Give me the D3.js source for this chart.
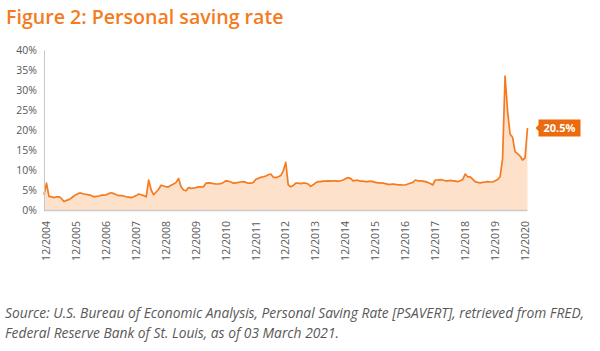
<!DOCTYPE html>
<html>
<head>
<meta charset="utf-8">
<script src="https://cdn.jsdelivr.net/npm/d3@7"></script>
<style>
  body { margin: 0; background: #fff; }
  svg { display: block; font-family: 'Open Sans', sans-serif; }
</style>
</head>
<body>
<script>
// DATA
const startMonth = '2004-11';
const savingRate = [
  3.8, 6.7,                                                   // 2004 (Nov, Dec)
  3.4, 3.3, 3.1, 3.3, 3.3, 2.9, 2.1, 2.4, 2.6, 3.0, 3.5, 3.9, // 2005
  4.2, 4.2, 4.0, 3.9, 3.8, 3.6, 3.3, 3.4, 3.5, 3.7, 3.7, 3.8, // 2006
  4.1, 4.3, 4.1, 3.8, 3.6, 3.6, 3.5, 3.3, 3.2, 3.1, 3.3, 3.6, // 2007
  4.0, 3.8, 3.6, 3.3, 7.5, 5.0, 3.8, 4.5, 5.2, 6.2, 6.0, 5.8, // 2008
  5.8, 6.2, 6.5, 6.9, 7.9, 5.8, 5.0, 4.8, 5.6, 5.4, 5.5, 5.6, // 2009
  5.8, 5.8, 5.8, 6.7, 6.8, 6.7, 6.6, 6.5, 6.5, 6.6, 6.9, 7.3, // 2010
  7.2, 7.0, 6.7, 6.8, 6.9, 7.0, 7.1, 6.9, 6.7, 6.7, 6.9, 7.7, // 2011
  7.9, 8.2, 8.3, 8.5, 8.8, 9.0, 8.2, 8.1, 8.3, 8.6, 9.8, 11.9, // 2012
  6.3, 5.8, 6.1, 6.7, 6.7, 6.6, 6.7, 6.7, 6.5, 5.9, 6.3, 6.8, // 2013
  7.1, 7.1, 7.2, 7.2, 7.3, 7.2, 7.3, 7.3, 7.2, 7.3, 7.5, 7.8, // 2014
  8.1, 7.9, 7.3, 7.4, 7.4, 7.2, 7.2, 7.1, 7.1, 7.2, 7.1, 6.9, // 2015
  6.8, 6.8, 6.7, 6.6, 6.4, 6.4, 6.5, 6.4, 6.3, 6.3, 6.25, 6.25, // 2016
  6.5, 6.7, 6.9, 7.5, 7.3, 7.3, 7.2, 7.1, 6.9, 6.6, 6.25, 7.5, // 2017
  7.5, 7.6, 7.5, 7.3, 7.3, 7.4, 7.3, 7.2, 7.1, 7.3, 7.6, 9.0, // 2018
  8.3, 8.3, 7.7, 7.1, 6.9, 6.8, 6.9, 7.0, 7.1, 7.0, 7.0, 7.3, // 2019
  7.6, 8.3, 12.8, 33.5, 24.8, 19.0, 18.2, 14.6, 14.1, 13.5, 12.5, 13.0, // 2020
  20.5                                                        // 2021 (Jan)
];
const xTickLabels = ['12/2004', '12/2005', '12/2006', '12/2007', '12/2008', '12/2009',
  '12/2010', '12/2011', '12/2012', '12/2013', '12/2014', '12/2015', '12/2016',
  '12/2017', '12/2018', '12/2019', '12/2020'];
const yTickValues = [0, 5, 10, 15, 20, 25, 30, 35, 40];
const titleText = 'Figure 2: Personal saving rate';
const sourceLines = [
  'Source: U.S. Bureau of Economic Analysis, Personal Saving Rate [PSAVERT], retrieved from FRED,',
  'Federal Reserve Bank of St. Louis, as of 03 March 2021.'
];

// DEFS
const width = 600;
const height = 351;
const orange = '#f47b20';
const labelOrange = '#ec6a0e';
const fillColor = '#fde1cb';
const textGrey = '#595959';
const axisGrey = '#c9c9c9';
const plot = {left: 44, right: 527.5, top: 50, bottom: 210};

const [startYear, startMon] = startMonth.split('-').map(Number);
// month index relative to the first data point, from a "MM/YYYY" label
const monthIndex = label => {
  const [m, y] = label.split('/').map(Number);
  return (y - startYear) * 12 + (m - startMon);
};

const svg = d3.select('body').append('svg')
  .attr('width', width)
  .attr('height', height);

// SCALES
const x = d3.scaleLinear().domain([0, savingRate.length - 1]).range([plot.left, plot.right]);
const y = d3.scaleLinear().domain([0, 40]).range([plot.bottom, plot.top]);

// TITLE
svg.append('text')
  .attr('x', 6)
  .attr('y', 24)
  .attr('fill', orange)
  .style('font-size', '19.6px')
  .style('font-weight', 600)
  .text(titleText);

// AREA + LINE
const area = d3.area()
  .x((d, i) => x(i))
  .y0(y(0))
  .y1(d => y(d));
const line = d3.line()
  .x((d, i) => x(i))
  .y(d => y(d));

svg.append('path')
  .datum(savingRate)
  .attr('d', area)
  .attr('fill', fillColor);

svg.append('path')
  .datum(savingRate)
  .attr('d', line)
  .attr('fill', 'none')
  .attr('stroke', orange)
  .attr('stroke-width', 1.7)
  .attr('stroke-linejoin', 'round');

// AXES
const yAxis = svg.append('g')
  .attr('transform', `translate(${plot.left},0)`)
  .call(d3.axisLeft(y).tickValues(yTickValues).tickSize(0).tickPadding(7).tickFormat(d => d + '%'));
yAxis.select('.domain').attr('stroke', axisGrey).attr('stroke-width', 1);
yAxis.selectAll('text')
  .attr('fill', textGrey)
  .style('font-family', "'Open Sans', sans-serif")
  .style('font-size', '10.5px');

svg.append('line')
  .attr('x1', plot.left)
  .attr('x2', plot.right)
  .attr('y1', y(0) + 0.5)
  .attr('y2', y(0) + 0.5)
  .attr('stroke', axisGrey)
  .attr('stroke-width', 1.5);

const xLabels = svg.append('g').attr('class', 'xLabels');
xLabels.selectAll('text')
  .data(xTickLabels)
  .enter().append('text')
    .attr('transform', d => `translate(${x(monthIndex(d))},221) rotate(-90)`)
    .attr('text-anchor', 'end')
    .attr('dy', '0.35em')
    .attr('fill', textGrey)
    .style('font-size', '10.5px')
    .text(d => d);

// LAST VALUE LABEL
const lastIdx = savingRate.length - 1;
const tipX = x(lastIdx) + 8;
const tipY = y(savingRate[lastIdx]);
const boxW = 42;
const boxH = 17;
const labelGroup = svg.append('g').attr('transform', `translate(${tipX},${tipY})`);
labelGroup.append('path')
  .attr('d', `M0,0 L3,-3 L3,${-boxH / 2} L${3 + boxW},${-boxH / 2} L${3 + boxW},${boxH / 2} L3,${boxH / 2} L3,3 Z`)
  .attr('fill', labelOrange);
labelGroup.append('text')
  .attr('x', 3 + boxW / 2)
  .attr('y', 0)
  .attr('dy', '0.36em')
  .attr('text-anchor', 'middle')
  .attr('fill', '#fff')
  .style('font-size', '11px')
  .style('font-weight', 700)
  .text(d3.format('.1f')(savingRate[lastIdx]) + '%');

// SOURCE
svg.append('g').selectAll('text')
  .data(sourceLines)
  .enter().append('text')
    .attr('x', 5)
    .attr('y', (d, i) => 318 + i * 19.5)
    .attr('fill', textGrey)
    .style('font-size', '13.8px')
    .style('font-style', 'italic')
    .text(d => d);
</script>
</body>
</html>
